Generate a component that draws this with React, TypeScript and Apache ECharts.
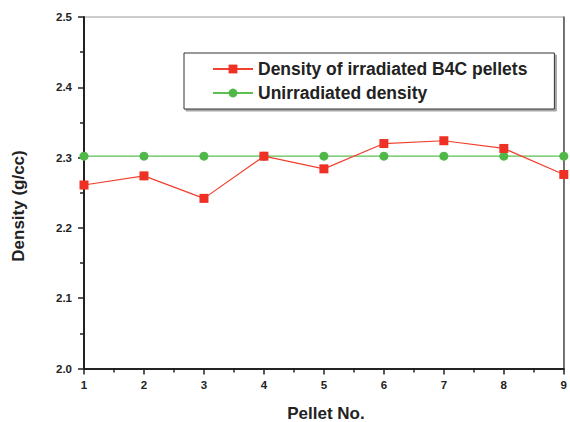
import React, { useEffect, useRef } from "react";
import * as echarts from "echarts";

const pellets = [1, 2, 3, 4, 5, 6, 7, 8, 9];
const irradiated = [2.261, 2.274, 2.242, 2.302, 2.284, 2.32, 2.324, 2.313, 2.276];
const unirradiated = [2.302, 2.302, 2.302, 2.302, 2.302, 2.302, 2.302, 2.302, 2.302];
const seriesNames = ["Density of irradiated B4C pellets", "Unirradiated density"];
const xTitle = "Pellet No.";
const yTitle = "Density (g/cc)";

const FONT = "'Liberation Sans', Arial, sans-serif";

export default function App() {
  const ref = useRef<HTMLDivElement>(null);
  useEffect(() => {
    if (!ref.current) return;
    const chart = echarts.init(ref.current, null, { renderer: "svg" });
    const axisLine = { show: true, lineStyle: { color: "#222", width: 2 } };
    chart.setOption({
      animation: false,
      backgroundColor: "#fff",
      grid: {
        left: 84,
        right: 3,
        top: 17,
        bottom: 53.5,
        show: true,
        borderColor: "#9a9a9a",
        borderWidth: 1,
      },
      legend: {
        orient: "vertical",
        left: 184,
        top: 53,
        padding: [7, 27, 7, 28],
        itemWidth: 40,
        itemHeight: 11,
        itemGap: 6,
        borderColor: "#333",
        borderWidth: 1,
        backgroundColor: "#fff",
        shadowColor: "rgba(0,0,0,0.35)",
        shadowOffsetX: 2,
        shadowOffsetY: 2,
        shadowBlur: 1,
        textStyle: { fontFamily: FONT, fontWeight: "bold", fontSize: 17.5, color: "#222", lineHeight: 18 },
        data: seriesNames,
      },
      xAxis: {
        type: "value",
        min: 1,
        max: 9,
        interval: 1,
        axisLine,
        axisTick: { show: true, inside: false, length: 6, lineStyle: { color: "#222", width: 1.5 } },
        minorTick: { show: true, splitNumber: 2, length: 4, lineStyle: { color: "#222", width: 1.5 } },
        splitLine: { show: false },
        axisLabel: { margin: 10, fontFamily: FONT, fontWeight: "bold", fontSize: 11.5, color: "#222" },
      },
      yAxis: [
        {
          type: "value",
          min: 2.0,
          max: 2.5,
          interval: 0.1,
          axisLine,
          axisTick: { show: true, inside: false, length: 6, lineStyle: { color: "#222", width: 1.5 } },
          minorTick: { show: true, splitNumber: 2, length: 4, lineStyle: { color: "#222", width: 1.5 } },
          splitLine: { show: false },
          axisLabel: {
            margin: 12,
            fontFamily: FONT,
            fontWeight: "bold",
            fontSize: 11.5,
            color: "#222",
            formatter: (v: number) => v.toFixed(1),
          },
        },
        {
          type: "value",
          position: "right",
          min: 2.0,
          max: 2.5,
          interval: 0.1,
          axisLine: { show: true, lineStyle: { color: "#555", width: 1.5 } },
          axisTick: { show: false },
          axisLabel: { show: false },
          splitLine: { show: false },
        },
      ],
      graphic: [
        {
          type: "text",
          x: 18,
          y: 206,
          rotation: Math.PI / 2,
          style: {
            text: yTitle,
            fontFamily: FONT,
            fontWeight: "bold",
            fontSize: 17,
            fill: "#222",
            align: "center",
            verticalAlign: "middle",
          },
        },
        {
          type: "text",
          x: 326,
          y: 413,
          style: {
            text: xTitle,
            fontFamily: FONT,
            fontWeight: "bold",
            fontSize: 17,
            fill: "#222",
            align: "center",
            verticalAlign: "middle",
          },
        },
      ],
      series: [
        {
          name: seriesNames[1],
          type: "line",
          data: pellets.map((p, i) => [p, unirradiated[i]]),
          symbol: "circle",
          symbolSize: 9,
          itemStyle: { color: "#4fb848" },
          lineStyle: { color: "#5cbf52", width: 1.2 },
          z: 2,
        },
        {
          name: seriesNames[0],
          type: "line",
          data: pellets.map((p, i) => [p, irradiated[i]]),
          symbol: "rect",
          symbolSize: 9,
          itemStyle: { color: "#ee3124" },
          lineStyle: { color: "#f0402f", width: 1.2 },
          z: 3,
        },
      ],
    });
    return () => chart.dispose();
  }, []);
  return <div ref={ref} style={{ width: 570, height: 422, position: "absolute", left: 0, top: 0 }} />;
}
